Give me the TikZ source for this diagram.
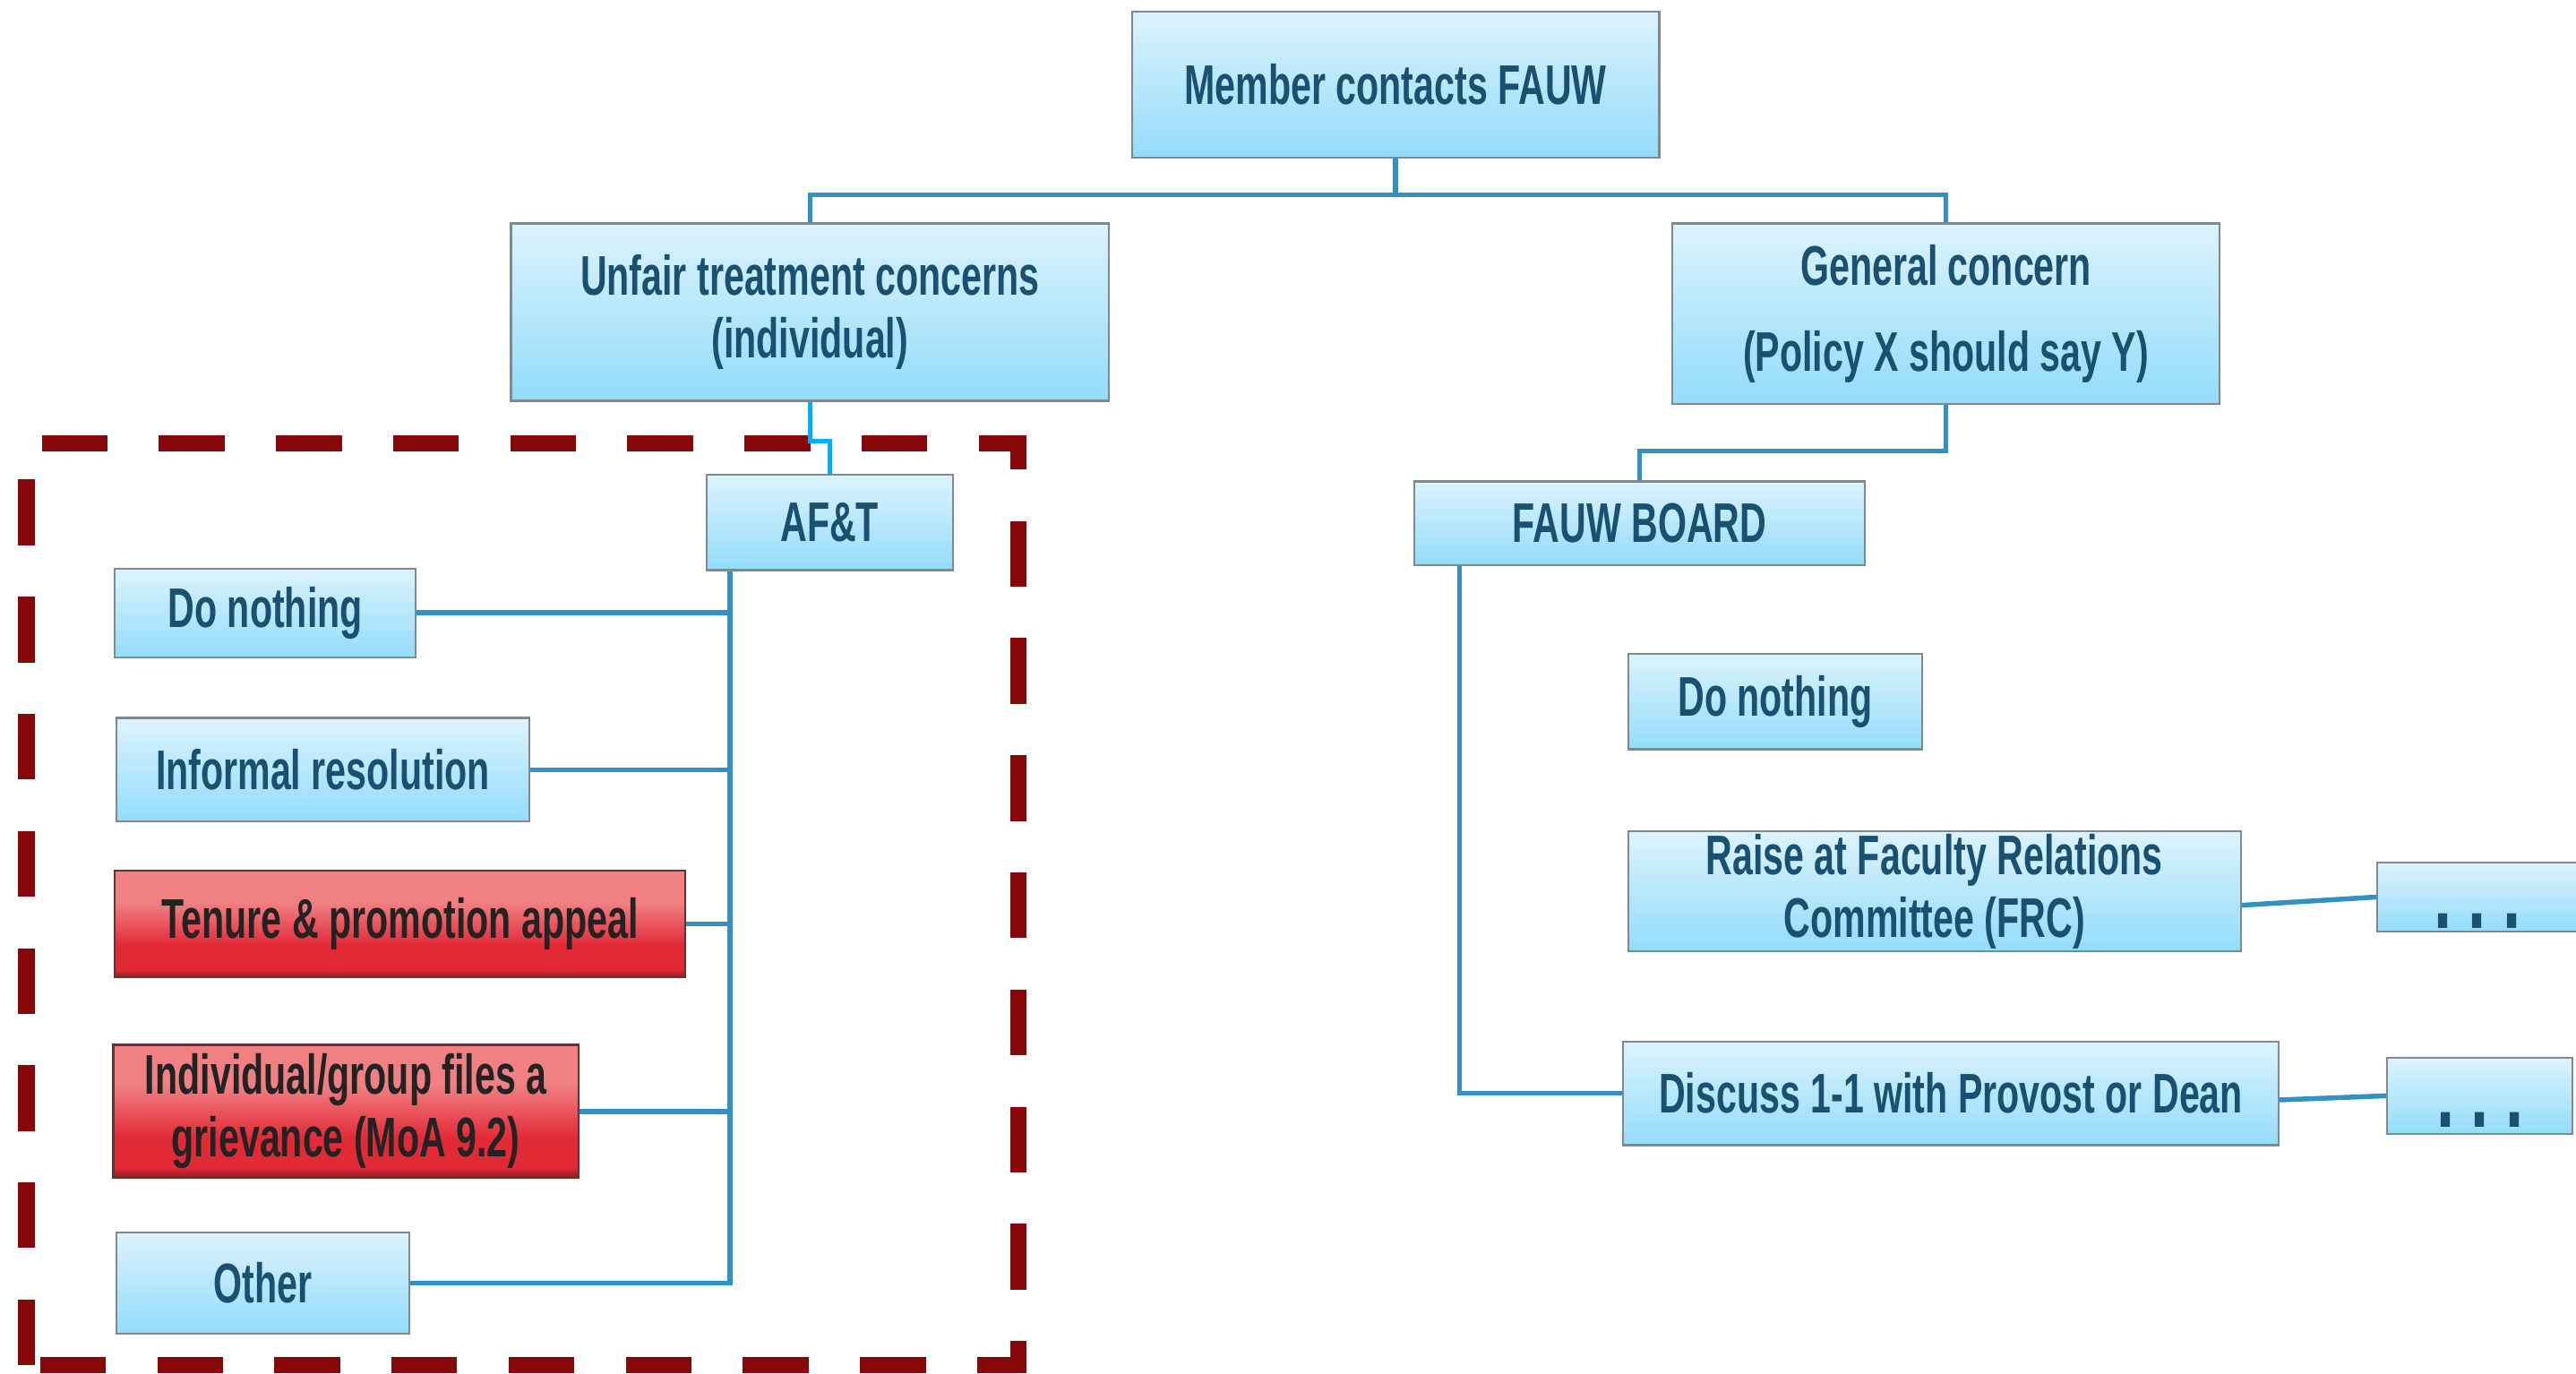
\documentclass[tikz,border=0pt]{standalone}
\usepackage{fontspec}
\setmainfont{Liberation Sans}[FakeStretch=0.66]
\definecolor{bT}{RGB}{220,243,253}
\definecolor{bB}{RGB}{147,220,250}
\definecolor{bdr}{RGB}{128,136,144}
\definecolor{txtB}{RGB}{26,80,112}
\definecolor{connc}{RGB}{50,145,195}
\definecolor{cyanc}{RGB}{0,176,240}
\definecolor{framec}{RGB}{135,8,8}
\definecolor{rP}{RGB}{240,128,130}
\definecolor{rR}{RGB}{226,42,55}
\definecolor{rD}{RGB}{150,25,32}
\definecolor{rBdr}{RGB}{100,50,50}
\definecolor{txtR}{RGB}{35,35,35}
\pgfdeclareverticalshading{redshade}{100bp}{color(0bp)=(rD); color(25bp)=(rD); color(29bp)=(rR); color(40bp)=(rR); color(60bp)=(rP); color(75bp)=(rP); color(100bp)=(rP)}
\tikzset{
  boxfont/.style={font=\fontsize{34}{38}\selectfont\bfseries},
  bluebox/.style={draw=bdr, line width=1.2pt, top color=bT, bottom color=bB, text=txtB, boxfont, inner sep=0pt, align=center},
  redbox/.style={draw=rBdr, line width=1.2pt, shading=redshade, text=txtR, boxfont, inner sep=0pt, align=center},
  conn/.style={draw=connc, line width=3pt},
  cyanconn/.style={draw=cyanc, line width=3pt},
  dashframe/.style={draw=framec, line width=10pt, dash pattern=on 40pt off 31.3pt, line join=miter, line cap=butt},
  dotsbox/.style={bluebox, text height=38pt, text depth=0pt, font=\fontsize{60}{60}\selectfont\bfseries}
}
\begin{document}
\begin{tikzpicture}[x=1pt,y=-1pt]
\useasboundingbox (0,0) rectangle (1568,836);
\clip (0,0) rectangle (1568,836);
\fill[white] (0,0) rectangle (1568,836);

% dashed frame (starts at bottom-left, runs clockwise)
\draw[dashframe] (16,831) -- (16,270) -- (620,270) -- (620,831) -- (16,831);

% nodes
\node[bluebox, minimum width=321pt, minimum height=89pt] (member) at (849.5,51.5) {Member contacts FAUW};
\node[bluebox, minimum width=364pt, minimum height=108pt] (unfair) at (493,190) {Unfair treatment concerns\\(individual)};
\node[bluebox, minimum width=333pt, minimum height=110pt] (general) at (1184.5,191) {General concern\\[14pt](Policy X should say Y)};
\node[bluebox, minimum width=150pt, minimum height=58pt] (aft) at (505,318) {AF\&T};
\node[bluebox, minimum width=183pt, minimum height=54pt] (dn1) at (161.5,373) {Do nothing};
\node[bluebox, minimum width=251pt, minimum height=63pt] (inf) at (196.5,468.5) {Informal resolution};
\node[redbox, minimum width=347pt, minimum height=65pt] (ten) at (243.5,562.5) {Tenure \& promotion appeal};
\node[redbox, minimum width=283pt, minimum height=81pt] (grv) at (210.5,676.5) {Individual/group files a\\grievance (MoA 9.2)};
\node[bluebox, minimum width=178pt, minimum height=62pt] (oth) at (160,781) {Other};
\node[bluebox, minimum width=274pt, minimum height=51pt] (board) at (998,318.5) {FAUW BOARD};
\node[bluebox, minimum width=179pt, minimum height=58pt] (dn2) at (1080.5,427) {Do nothing};
\node[bluebox, minimum width=373pt, minimum height=73pt] (raise) at (1177.5,542.5) {Raise at Faculty Relations\\Committee (FRC)};
\node[bluebox, minimum width=399pt, minimum height=63pt] (disc) at (1187.5,665.5) {Discuss 1-1 with Provost or Dean};
\node[dotsbox, minimum width=122pt, minimum height=42pt] (dots1) at (1508,546) {.\hspace{10pt}.\hspace{10pt}.};
\node[dotsbox, minimum width=113pt, minimum height=46pt] (dots2) at (1509.5,667) {.\hspace{10pt}.\hspace{10pt}.};

% connectors
\draw[conn] (member.south) -- ++(0,22) -| (unfair.north);
\draw[conn] (member.south) -- ++(0,22) -| (general.north);
\draw[cyanconn] (unfair.south) -- ++(0,24) -| (aft.north);
\foreach \c in {dn1,inf,ten,grv,oth}
  \draw[conn] ([xshift=15pt]aft.south west) |- (\c.east);
\draw[conn] (general.south) -- ++(0,28) -| (board.north);
\draw[conn] ([xshift=28pt]board.south west) |- (disc.west);
\draw[conn] ([yshift=-8.5pt]raise.east) -- (dots1.west);
\draw[conn] ([yshift=-4pt]disc.east) -- (dots2.west);
\end{tikzpicture}
\end{document}
